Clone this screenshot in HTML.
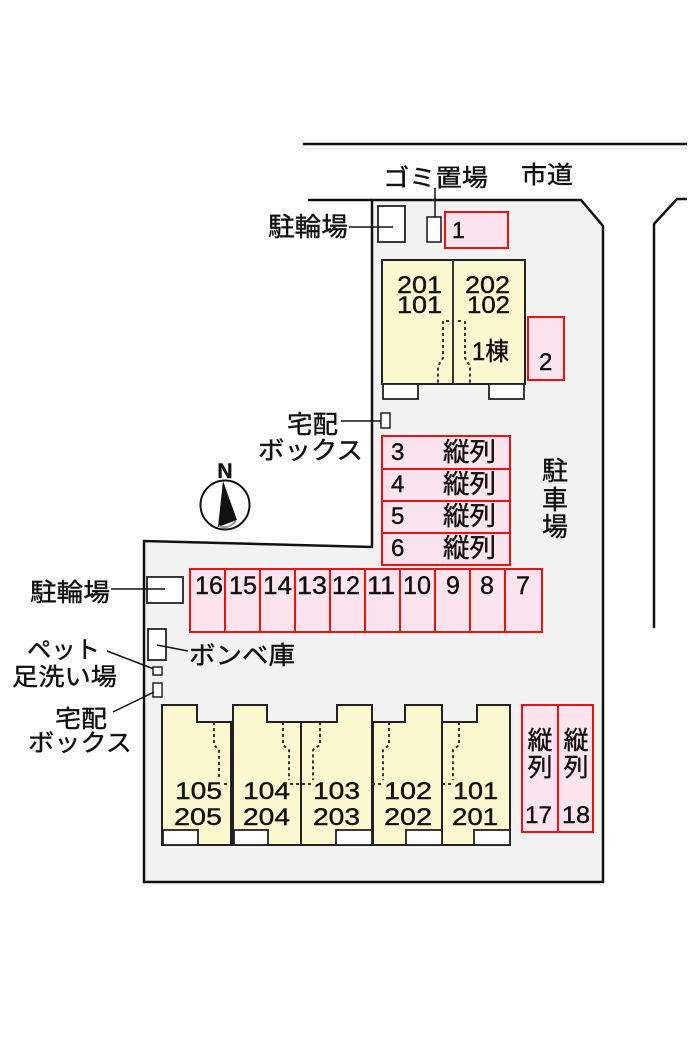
<!DOCTYPE html>
<html><head><meta charset="utf-8">
<style>
html,body{margin:0;padding:0;background:#fff;}
svg{display:block;}
text{font-family:"Liberation Sans","Noto Sans CJK JP",sans-serif;fill:#111;stroke:#111;stroke-width:0.4;}
</style></head>
<body>
<svg width="700" height="1050" viewBox="0 0 700 1050" xmlns="http://www.w3.org/2000/svg">
<rect width="700" height="1050" fill="#fff"/>
<!-- road lines -->
<line x1="303" y1="144" x2="687" y2="144" stroke="#111" stroke-width="2.5"/>
<line x1="305" y1="149" x2="687" y2="149" stroke="#ddd" stroke-width="1"/>
<line x1="308" y1="200" x2="372" y2="200" stroke="#111" stroke-width="2.5"/>
<path d="M687,199 L677,199 L654,224 L654,628" fill="none" stroke="#111" stroke-width="2.5"/>
<!-- lot -->
<path d="M372,200 L581,200 L603,226 L603,882 L144,882 L144,541 L372,547 Z" fill="#f2f2f2" stroke="#111" stroke-width="2.5"/>

<!-- top labels -->
<text x="383" y="186" font-size="24" textLength="105" lengthAdjust="spacingAndGlyphs">ゴミ置場</text>
<text x="521" y="183" font-size="24" textLength="52" lengthAdjust="spacingAndGlyphs">市道</text>
<text x="268" y="236" font-size="26" textLength="80" lengthAdjust="spacingAndGlyphs">駐輪場</text>
<line x1="349" y1="227" x2="393" y2="227" stroke="#111" stroke-width="1.5"/>
<rect x="378" y="206" width="27" height="36" fill="#fff" stroke="#222" stroke-width="1.8"/>
<line x1="393" y1="227" x2="378" y2="227" stroke="#111" stroke-width="1.5"/>
<line x1="435" y1="188" x2="435" y2="217" stroke="#111" stroke-width="1.5"/>
<rect x="427" y="217" width="14" height="25" fill="#fff" stroke="#222" stroke-width="1.6"/>
<rect x="445" y="212" width="63" height="36" fill="#fbe4ed" stroke="#f01010" stroke-width="2"/>
<text x="452" y="238" font-size="23">1</text>

<!-- building 1 -->
<rect x="382" y="260" width="143" height="124" fill="#fbf7cf" stroke="#222" stroke-width="2"/>
<line x1="453" y1="260" x2="453" y2="384" stroke="#333" stroke-width="2"/>
<rect x="383" y="384" width="35" height="15" fill="#fff" stroke="#222" stroke-width="1.8"/>
<rect x="489" y="384" width="35" height="15" fill="#fff" stroke="#222" stroke-width="1.8"/>
<g fill="none" stroke="#333" stroke-width="2" stroke-dasharray="3,3">
<path d="M446,321 L451,321"/>
<path d="M443,321 L443,358 L438,366 L438,384"/>
<path d="M458,321 L463,321"/>
<path d="M465,321 L465,358 L470,366 L470,384"/>
</g>
<text x="397" y="293" font-size="24" textLength="45" lengthAdjust="spacingAndGlyphs">201</text>
<text x="397" y="313" font-size="24" textLength="45" lengthAdjust="spacingAndGlyphs">101</text>
<text x="465" y="293" font-size="24" textLength="45" lengthAdjust="spacingAndGlyphs">202</text>
<text x="467" y="313" font-size="24" textLength="43" lengthAdjust="spacingAndGlyphs">102</text>
<text x="472" y="360" font-size="25" textLength="37" lengthAdjust="spacingAndGlyphs">1棟</text>
<rect x="528" y="317" width="36" height="63" fill="#fbe4ed" stroke="#f01010" stroke-width="2"/>
<text x="539" y="370" font-size="24">2</text>

<!-- takuhai top -->
<text x="287" y="433" font-size="25" textLength="51" lengthAdjust="spacingAndGlyphs">宅配</text>
<text x="258" y="459" font-size="25" textLength="105" lengthAdjust="spacingAndGlyphs">ボックス</text>
<line x1="341" y1="421" x2="381" y2="421" stroke="#111" stroke-width="1.5"/>
<rect x="381" y="413" width="9" height="15" fill="#fff" stroke="#222" stroke-width="1.5"/>

<!-- parking 3-6 -->
<g stroke="#f01010" stroke-width="2" fill="#fbe4ed">
<rect x="382" y="436" width="128" height="33"/>
<rect x="382" y="469" width="128" height="32"/>
<rect x="382" y="501" width="128" height="32"/>
<rect x="382" y="533" width="128" height="32"/>
</g>
<g font-size="24">
<text x="391" y="460">3</text>
<text x="391" y="492">4</text>
<text x="391" y="524">5</text>
<text x="391" y="556">6</text>
</g>
<g font-size="26">
<text x="443" y="461" textLength="53" lengthAdjust="spacingAndGlyphs">縦列</text>
<text x="443" y="493" textLength="53" lengthAdjust="spacingAndGlyphs">縦列</text>
<text x="443" y="525" textLength="53" lengthAdjust="spacingAndGlyphs">縦列</text>
<text x="443" y="557" textLength="53" lengthAdjust="spacingAndGlyphs">縦列</text>
</g>

<!-- 駐車場 vertical -->
<g font-size="26" text-anchor="middle">
<text x="555" y="480">駐</text>
<text x="555" y="509">車</text>
<text x="555" y="536">場</text>
</g>

<!-- compass -->
<circle cx="225" cy="505" r="24.5" fill="#fff" stroke="#111" stroke-width="2"/>
<polygon points="223,481 218,527 237,520" fill="#111"/>
<path d="M219,526 Q228,530 236,521" fill="none" stroke="#999" stroke-width="2"/>
<text x="225" y="478" font-size="21" text-anchor="middle" font-weight="bold">N</text>

<!-- parking 7-16 -->
<g stroke="#f01010" stroke-width="2" fill="#fbe4ed">
<rect x="190" y="569" width="35" height="63"/>
<rect x="225" y="569" width="35" height="63"/>
<rect x="260" y="569" width="35" height="63"/>
<rect x="295" y="569" width="35" height="63"/>
<rect x="330" y="569" width="35" height="63"/>
<rect x="365" y="569" width="35" height="63"/>
<rect x="400" y="569" width="35" height="63"/>
<rect x="435" y="569" width="35" height="63"/>
<rect x="470" y="569" width="35" height="63"/>
<rect x="505" y="569" width="37" height="63"/>
</g>
<g font-size="25">
<text x="195" y="594" textLength="28" lengthAdjust="spacingAndGlyphs">16</text>
<text x="229" y="594" textLength="28" lengthAdjust="spacingAndGlyphs">15</text>
<text x="263" y="594" textLength="29" lengthAdjust="spacingAndGlyphs">14</text>
<text x="297" y="594" textLength="30" lengthAdjust="spacingAndGlyphs">13</text>
<text x="332" y="594" textLength="28" lengthAdjust="spacingAndGlyphs">12</text>
<text x="367" y="594" textLength="28" lengthAdjust="spacingAndGlyphs">11</text>
<text x="403" y="594" textLength="28" lengthAdjust="spacingAndGlyphs">10</text>
<text x="446" y="594">9</text>
<text x="480" y="594">8</text>
<text x="516" y="594">7</text>
</g>

<!-- lower left labels -->
<text x="30" y="601" font-size="25" textLength="80" lengthAdjust="spacingAndGlyphs">駐輪場</text>
<line x1="111" y1="589" x2="165" y2="589" stroke="#111" stroke-width="1.5"/>
<rect x="147" y="577" width="36" height="26" fill="#fff" stroke="#222" stroke-width="1.8"/>
<line x1="147" y1="589" x2="165" y2="589" stroke="#111" stroke-width="1.5"/>
<rect x="148" y="629" width="18" height="31" fill="#fff" stroke="#222" stroke-width="1.8"/>
<line x1="157" y1="645" x2="188" y2="651" stroke="#111" stroke-width="1.5"/>
<text x="189" y="664" font-size="25" textLength="106" lengthAdjust="spacingAndGlyphs">ボンベ庫</text>
<text x="27" y="658" font-size="24" textLength="73" lengthAdjust="spacingAndGlyphs">ペット</text>
<text x="12" y="685" font-size="24" textLength="105" lengthAdjust="spacingAndGlyphs">足洗い場</text>
<line x1="107" y1="651" x2="154" y2="669" stroke="#111" stroke-width="1.5"/>
<rect x="153" y="667" width="9" height="8" fill="#fff" stroke="#222" stroke-width="1.5"/>
<rect x="153" y="683" width="9" height="14" fill="#fff" stroke="#222" stroke-width="1.5"/>
<line x1="113" y1="712" x2="154" y2="692" stroke="#111" stroke-width="1.5"/>
<text x="55" y="727" font-size="24" textLength="52" lengthAdjust="spacingAndGlyphs">宅配</text>
<text x="28" y="751" font-size="24" textLength="104" lengthAdjust="spacingAndGlyphs">ボックス</text>

<!-- lower building units -->
<g fill="#fbf7cf" stroke="#222" stroke-width="2">
<path d="M162,705 L197,705 L197,722 L231,722 L231,845 L162,845 Z"/>
<path d="M233,705 L267,705 L267,722 L301,722 L301,845 L233,845 Z"/>
<path d="M301,722 L337,722 L337,705 L372,705 L372,845 L301,845 Z"/>
<path d="M373,722 L405,722 L405,705 L442,705 L442,845 L373,845 Z"/>
<path d="M442,722 L477,722 L477,705 L510,705 L510,845 L442,845 Z"/>
</g>
<g fill="#fff" stroke="#222" stroke-width="1.8">
<rect x="163" y="830" width="35" height="15"/>
<rect x="234" y="830" width="34" height="15"/>
<rect x="336" y="830" width="36" height="15"/>
<rect x="406" y="830" width="36" height="15"/>
<rect x="474" y="830" width="36" height="15"/>
</g>
<g fill="none" stroke="#333" stroke-width="2" stroke-dasharray="3,3">
<path d="M214,722 L214,745 L219,750 L219,778"/>
<path d="M224,784 L231,784"/>
<path d="M283,722 L283,745 L289,750 L289,780"/>
<path d="M290,784 L313,784"/>
<path d="M320,722 L320,745 L313,750 L313,780"/>
<path d="M389,722 L389,745 L383,750 L383,780"/>
<path d="M372,784 L383,784"/>
<path d="M459,722 L459,745 L453,750 L453,780"/>
<path d="M442,784 L453,784"/>
</g>
<g font-size="24">
<text x="175" y="799" textLength="47" lengthAdjust="spacingAndGlyphs">105</text>
<text x="174" y="825" textLength="48" lengthAdjust="spacingAndGlyphs">205</text>
<text x="243" y="799" textLength="47" lengthAdjust="spacingAndGlyphs">104</text>
<text x="243" y="825" textLength="47" lengthAdjust="spacingAndGlyphs">204</text>
<text x="313" y="799" textLength="47" lengthAdjust="spacingAndGlyphs">103</text>
<text x="313" y="825" textLength="47" lengthAdjust="spacingAndGlyphs">203</text>
<text x="384" y="799" textLength="48" lengthAdjust="spacingAndGlyphs">102</text>
<text x="384" y="825" textLength="48" lengthAdjust="spacingAndGlyphs">202</text>
<text x="453" y="799" textLength="45" lengthAdjust="spacingAndGlyphs">101</text>
<text x="452" y="825" textLength="46" lengthAdjust="spacingAndGlyphs">201</text>
</g>

<!-- parking 17/18 -->
<rect x="522" y="705" width="36" height="127" fill="#fbe4ed" stroke="#f01010" stroke-width="2"/>
<rect x="558" y="705" width="35" height="127" fill="#fbe4ed" stroke="#f01010" stroke-width="2"/>
<g font-size="25" text-anchor="middle">
<text x="540" y="749">縦</text>
<text x="540" y="776">列</text>
<text x="576" y="749">縦</text>
<text x="576" y="776">列</text>
</g>
<g font-size="24">
<text x="525" y="823" textLength="27" lengthAdjust="spacingAndGlyphs">17</text>
<text x="562" y="823" textLength="28" lengthAdjust="spacingAndGlyphs">18</text>
</g>
</svg>
</body></html>
